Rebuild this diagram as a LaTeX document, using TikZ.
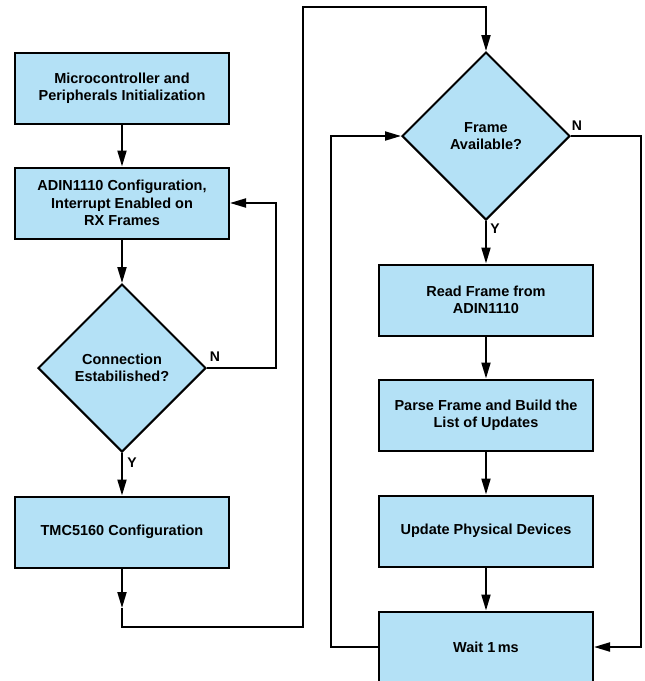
\documentclass[tikz,border=0pt]{standalone}
\usepackage{fontspec}
\setmainfont{Liberation Sans}
\usetikzlibrary{shapes.geometric, arrows.meta}

\definecolor{boxblue}{RGB}{180,225,246}

\tikzset{
  stepbox/.style={draw, line width=2pt, fill=boxblue, minimum width=214pt, minimum height=71pt,
    align=center, inner sep=0pt, font=\fontsize{14.5}{17.5}\selectfont\bfseries},
  decision/.style={draw, line width=2pt, fill=boxblue, shape=diamond, minimum width=168pt,
    minimum height=168pt, inner sep=0pt, align=center, font=\fontsize{14.5}{17.5}\selectfont\bfseries},
  arr/.style={line width=2pt, -{Triangle[length=16pt,width=9pt]}},
  link/.style={line width=2pt},
  yn/.style={font=\fontsize{14}{16}\selectfont\bfseries}
}

\begin{document}
\begin{tikzpicture}[x=1pt, y=-1pt]
\useasboundingbox (0,0) rectangle (645,681);

%Left column
\node[stepbox] (mcu) at (122,88) {Microcontroller and\\Peripherals Initialization};
\node[stepbox] (adin) at (122,203) {ADIN1110 Configuration,\\Interrupt Enabled on\\RX Frames};
\node[decision] (conn) at (122,368) {Connection\\Estabilished?};
\node[stepbox] (tmc) at (122,532) {TMC5160 Configuration};

%Right column
\node[decision] (frame) at (486,136) {Frame\\Available?};
\node[stepbox] (read) at (486,300) {Read Frame from\\ADIN1110};
\node[stepbox] (parse) at (486,415) {Parse Frame and Build the\\List of Updates};
\node[stepbox] (update) at (486,531) {Update Physical Devices};
\node[stepbox] (wait) at (486,647) {Wait 1\,ms};

%Labels
\node[yn] (n1) at (215,357) {N};
\node[yn] (y1) at (132,463) {Y};
\node[yn] (n2) at (577,126) {N};
\node[yn] (y2) at (495,229) {Y};

%Corners
\coordinate (c1) at (276,368);
\coordinate (t0) at (122,608);
\coordinate (t1) at (122,627);
\coordinate (t2) at (303,7);
\coordinate (r1) at (641,136);
\coordinate (l1) at (331,647);

%Straight arrows
\foreach \from/\to in {mcu/adin, adin/conn, conn/tmc, frame/read, read/parse, parse/update, update/wait}
\draw [arr] (\from) -- (\to);

%Loops
\draw[arr] (conn.east) -- (c1) |- (adin.east);
\draw[arr] (tmc) -- (t0);
\draw[arr] (t0) -- (t1) -| (t2) -| (frame.north);
\draw[arr] (frame.east) -- (r1) |- (wait.east);
\draw[arr] (wait.west) -- (l1) |- (frame.west);
\end{tikzpicture}
\end{document}
